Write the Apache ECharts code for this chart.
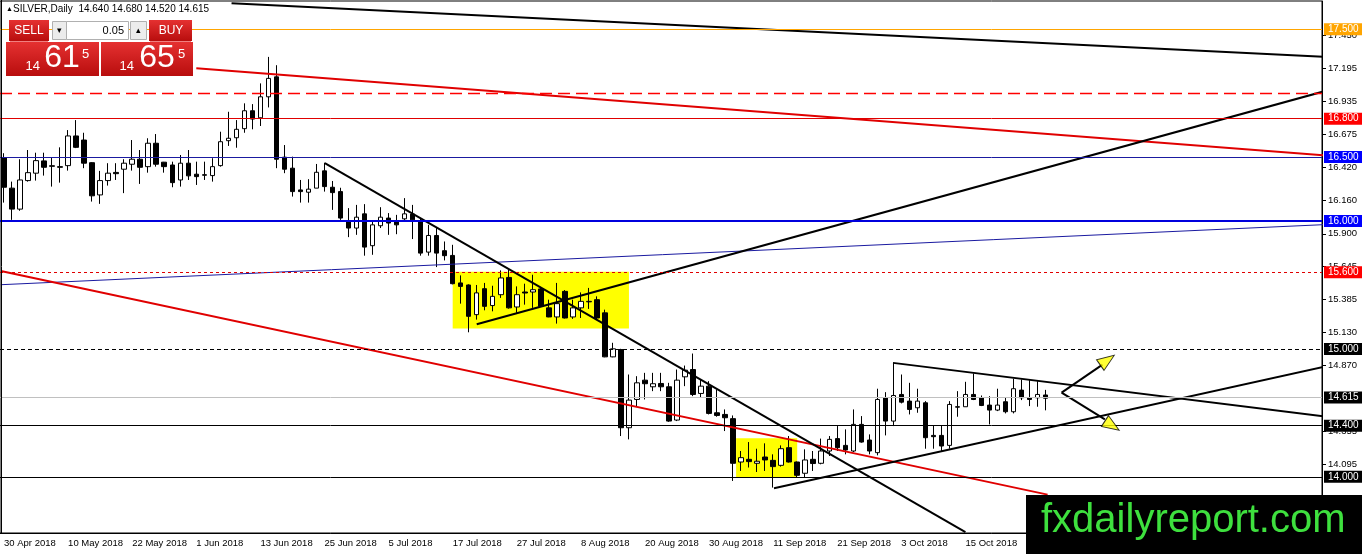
<!DOCTYPE html>
<html>
<head>
<meta charset="utf-8">
<title>SILVER, Daily</title>
<script src="https://cdn.jsdelivr.net/npm/echarts@6.0.0/dist/echarts.min.js"></script>
<style>
html,body{margin:0;padding:0;background:#fff;}
#chart{width:1362px;height:554px;}
</style>
</head>
<body>
<div id="chart"></div>
<script>
// daily bars, 30 Apr 2018 .. 29 Oct 2018
var openVals = [16.495,16.257,16.093,16.316,16.374,16.470,16.432,16.425,16.433,16.665,
	16.633,16.456,16.204,16.316,16.380,16.405,16.444,16.483,16.425,16.608,
	16.460,16.438,16.321,16.452,16.366,16.362,16.355,16.433,16.628,16.651,
	16.722,16.862,16.807,16.971,17.127,16.499,16.413,16.243,16.225,16.257,
	16.392,16.264,16.230,16.004,15.945,16.056,15.807,15.963,16.023,16.004,
	16.017,16.054,16.004,15.757,15.887,15.768,15.731,15.516,15.500,15.268,
	15.471,15.339,15.424,15.559,15.328,15.445,15.445,15.469,15.321,15.250,
	15.450,15.250,15.321,15.368,15.385,15.282,14.938,14.995,14.384,14.605,
	14.756,14.704,14.730,14.704,14.444,14.782,14.839,14.652,14.709,14.501,
	14.488,14.455,14.116,14.137,14.106,14.155,14.129,14.090,14.228,14.116,
	14.028,14.137,14.106,14.202,14.299,14.246,14.202,14.410,14.288,14.189,
	14.618,14.436,14.644,14.592,14.540,14.579,14.324,14.324,14.246,14.548,
	14.548,14.644,14.618,14.561,14.522,14.587,14.509,14.678,14.618,14.618,
	14.640];
var closeVals = [16.264,16.093,16.321,16.378,16.472,16.420,16.428,16.420,16.665,16.576,
	16.452,16.197,16.316,16.374,16.370,16.452,16.483,16.420,16.608,16.444,
	16.425,16.300,16.452,16.353,16.347,16.358,16.425,16.620,16.647,16.717,
	16.862,16.797,16.971,17.115,16.483,16.405,16.230,16.230,16.249,16.381,
	16.269,16.222,16.023,15.945,16.030,15.796,15.970,16.030,15.984,15.970,
	16.056,16.009,15.749,15.887,15.749,15.729,15.510,15.489,15.255,15.438,
	15.333,15.411,15.555,15.321,15.424,15.437,15.463,15.333,15.250,15.354,
	15.242,15.321,15.372,15.372,15.242,14.938,15.001,14.384,14.600,14.735,
	14.728,14.728,14.704,14.436,14.756,14.834,14.644,14.709,14.496,14.480,
	14.462,14.106,14.150,14.119,14.122,14.132,14.080,14.220,14.116,14.012,
	14.132,14.104,14.202,14.293,14.228,14.210,14.410,14.272,14.202,14.605,
	14.436,14.636,14.584,14.527,14.592,14.306,14.314,14.241,14.566,14.545,
	14.644,14.605,14.558,14.522,14.561,14.509,14.689,14.618,14.605,14.644,
	14.615];
var lowVals = [16.144,16.009,16.080,16.308,16.316,16.355,16.269,16.300,16.394,16.570,
	16.413,16.152,16.134,16.277,16.321,16.218,16.394,16.290,16.378,16.425,
	16.378,16.264,16.269,16.321,16.282,16.321,16.308,16.425,16.587,16.573,
	16.690,16.717,16.743,16.888,16.413,16.374,16.191,16.144,16.144,16.257,
	16.230,16.087,16.009,15.874,15.892,15.729,15.736,15.945,15.892,15.897,
	16.004,15.859,15.729,15.729,15.640,15.692,15.505,15.354,15.130,15.229,
	15.302,15.294,15.399,15.315,15.282,15.346,15.321,15.328,15.248,15.198,
	15.238,15.235,15.242,15.313,15.229,14.935,14.935,14.319,14.293,14.553,
	14.605,14.670,14.670,14.430,14.436,14.709,14.631,14.618,14.488,14.470,
	14.358,13.968,14.046,14.073,14.038,14.046,13.916,14.080,14.112,13.995,
	13.995,14.046,14.098,14.163,14.202,14.176,14.194,14.267,14.176,14.168,
	14.324,14.397,14.574,14.488,14.501,14.220,14.220,14.202,14.220,14.470,
	14.548,14.600,14.553,14.410,14.514,14.496,14.496,14.600,14.553,14.548,
	14.520];
var highVals = [16.530,16.308,16.483,16.555,16.534,16.534,16.495,16.576,16.711,16.789,
	16.690,16.460,16.392,16.452,16.452,16.483,16.633,16.555,16.647,16.680,
	16.462,16.464,16.516,16.555,16.464,16.464,16.491,16.698,16.854,16.789,
	16.920,16.914,17.076,17.283,17.218,16.594,16.503,16.321,16.327,16.446,
	16.456,16.313,16.260,16.101,16.126,16.132,16.004,16.108,16.062,16.048,
	16.179,16.126,16.023,15.970,15.945,15.840,15.814,15.575,15.505,15.500,
	15.516,15.494,15.614,15.619,15.489,15.510,15.580,15.477,15.385,15.516,
	15.460,15.385,15.442,15.477,15.411,15.307,15.048,15.001,14.800,14.787,
	14.813,14.813,14.813,14.735,14.839,14.870,14.964,14.761,14.748,14.683,
	14.527,14.480,14.202,14.272,14.220,14.262,14.176,14.246,14.319,14.120,
	14.215,14.202,14.299,14.319,14.397,14.371,14.527,14.475,14.332,14.689,
	14.662,14.892,14.800,14.735,14.689,14.592,14.402,14.402,14.592,14.670,
	14.743,14.808,14.636,14.631,14.689,14.618,14.767,14.761,14.756,14.748,
	14.680];

// price scale labels on the right
var yTicks = [17.450,17.195,16.935,16.675,16.420,16.160,15.900,15.645,15.385,15.130,14.870,14.355,14.095,13.835];
// horizontal levels
var levelPrices = [17.500,17.000,16.800,16.500,16.000,15.600,15.000,14.615,14.400,14.000];
// trend lines [bar index, price]
var lineTop = [[28.4,17.702],[164.9,17.284]];
var lineRedUp = [[24.0,17.195],[164.9,16.512]];
var lineNavy = [[-0.4,15.502],[164.9,15.972]];
var lineRedLow = [[-0.4,15.609],[130.25,13.861]];
var lineFall = [[40.04,16.452],[120.0,13.568]];
var lineRise = [[59.0,15.193],[164.9,17.016]];
var lineSupport = [[96.1,13.911],[169.9,14.931]];
var lineResist = [[110.96,14.891],[169.9,14.432]];
var arrowUp = [[132.0,14.658],[137.1,14.877]];
var arrowDown = [[132.0,14.658],[137.4,14.449]];
var arrowHeads = [[137.7,14.912],[138.3,14.400]];
// yellow boxes [x0,p0,x1,p1]
var boxes = [[56.0,15.604,78.0,15.159],[91.375,14.301,99.0,13.997]];
var askPrice = 14.655;

var barCount = 165;
var months = ['Jan','Feb','Mar','Apr','May','Jun','Jul','Aug','Sep','Oct','Nov','Dec'];

function weekdays(start, n){
	var out = [], t = start;
	while(out.length < n){
		var d = new Date(t);
		var wd = d.getUTCDay();
		if(wd != 0 && wd != 6){
			out.push(d.getUTCDate()+' '+months[d.getUTCMonth()]+' '+d.getUTCFullYear());
		}
		t += 86400000;
	}
	return out;
}

var dates = weekdays(Date.UTC(2018,3,30), barCount);
var candles = [];
for(var i=0;i<openVals.length;i++){
	candles.push([openVals[i],closeVals[i],lowVals[i],highVals[i]]);
}
var last = openVals.length-1;

var FONT = 'Liberation Sans';

function level(price, color, width, type, tag){
	return {
		yAxis: price,
		lineStyle: {color: color, width: width, type: type},
		label: tag ? {
			show: true, position: 'end', distance: 2,
			formatter: price.toFixed(3),
			color: '#fff', backgroundColor: tag,
			padding: [1,4,1,4], fontSize: 10, fontFamily: FONT
		} : {show: false}
	};
}

function trend(points, color, width, clip){
	return {
		type: 'line', xAxisIndex: 1, yAxisIndex: 0,
		data: points, symbol: 'none', showSymbol: false,
		clip: clip, silent: true, z: 4,
		lineStyle: {color: color, width: width}
	};
}

function txt(x, y, s, size, color, align){
	return {type:'text', x:x, y:y, z:100, silent:true,
		style:{text:s, fill:color, font: size+'px "'+FONT+'"',
			align: align||'left', textAlign: align||'left',
			verticalAlign:'middle', textVerticalAlign:'middle'}};
}
function box(x, y, w, h, fill, stroke){
	return {type:'rect', z:99, silent:true, shape:{x:x,y:y,width:w,height:h},
		style:{fill:fill, stroke:stroke||null, lineWidth:1}};
}
function redFill(){
	return new echarts.graphic.LinearGradient(0,0,0,1,[{offset:0,color:'#e53131'},{offset:1,color:'#b80d0d'}]);
}

var bid = closeVals[last].toFixed(3), ask = askPrice.toFixed(3);

var graphics = [
	{type:'line', z:99, silent:true, shape:{x1:1.5,y1:0,x2:1.5,y2:533}, style:{stroke:'#000',lineWidth:1}},
	txt(6, 9.5, '\u25B2', 7, '#000'),
	txt(13, 9.5, 'SILVER,Daily  '+openVals[last].toFixed(3)+' '+highVals[last].toFixed(3)+' '+lowVals[last].toFixed(3)+' '+closeVals[last].toFixed(3), 10, '#000'),
	box(9, 20, 40, 21, redFill()),
	box(149, 20, 43, 21, redFill()),
	box(6, 42, 93, 34, redFill()),
	box(101, 42, 92, 34, redFill()),
	{type:'line', z:100, silent:true, shape:{x1:10,y1:41.5,x2:48,y2:41.5}, style:{stroke:'#f08080',lineWidth:1}},
	{type:'line', z:100, silent:true, shape:{x1:150,y1:41.5,x2:191,y2:41.5}, style:{stroke:'#f08080',lineWidth:1}},
	box(52.5, 21.5, 14, 18, '#ececec', '#b0b0b0'),
	box(66.5, 21.5, 62, 18, '#fff', '#b0b0b0'),
	box(130.5, 21.5, 16, 18, '#ececec', '#b0b0b0'),
	txt(59.5, 30.5, '\u25BE', 9, '#000', 'center'),
	txt(138.5, 30.5, '\u25B4', 9, '#000', 'center'),
	txt(124, 30.5, '0.05', 11, '#000', 'right'),
	txt(29, 31, 'SELL', 12, '#fff', 'center'),
	txt(171, 31, 'BUY', 12, '#fff', 'center'),
	txt(40, 66, bid.substr(0,2), 13, '#fff', 'right'),
	txt(62, 58.5, bid.substr(3,2), 32, '#fff', 'center'),
	txt(82, 54, bid.substr(5,1), 13, '#fff', 'left'),
	txt(134, 66, ask.substr(0,2), 13, '#fff', 'right'),
	txt(157, 58.5, ask.substr(3,2), 32, '#fff', 'center'),
	txt(178, 54, ask.substr(5,1), 13, '#fff', 'left'),
	box(1026, 495, 336, 59, '#000'),
	txt(1041, 521, 'fxdailyreport.com', 40, '#3ee03e', 'left')
];

var chart = echarts.init(document.getElementById('chart'));
chart.setOption({
	animation: false,
	backgroundColor: '#fff',
	textStyle: {fontFamily: FONT},
	grid: {left: -1, right: 40, top: 1, bottom: 21, show: true, borderColor: '#000', borderWidth: 1, containLabel: false},
	xAxis: [
		{
			type: 'category',
			data: dates,
			axisLine: {lineStyle: {color: '#000'}},
			axisTick: {alignWithLabel: true, interval: 7, length: 4, lineStyle: {color: '#000'}},
			axisLabel: {interval: 7, align: 'left', margin: 5, fontSize: 9.5, color: '#000', fontFamily: FONT},
			splitLine: {show: false}
		},
		{type: 'value', min: -0.5, max: barCount-0.5, show: false}
	],
	yAxis: [{
		type: 'value',
		position: 'right',
		min: 13.561,
		max: 17.720,
		axisLine: {show: true, onZero: false, lineStyle: {color: '#000'}},
		axisTick: {show: true, length: 4, customValues: yTicks, lineStyle: {color: '#000'}},
		axisLabel: {customValues: yTicks, margin: 6, fontSize: 9.5, color: '#000', fontFamily: FONT,
			formatter: function(v){ return v.toFixed(3); }},
		splitLine: {show: false}
	}],
	series: [
		{
			type: 'line', xAxisIndex: 1, yAxisIndex: 0, data: [], z: 1, silent: true,
			markArea: {
				silent: true,
				itemStyle: {color: '#ffff00'},
				data: boxes.map(function(b){ return [{xAxis: b[0], yAxis: b[1]}, {xAxis: b[2], yAxis: b[3]}]; })
			}
		},
		{
			type: 'candlestick',
			data: candles,
			barWidth: 5,
			z: 3,
			silent: true,
			itemStyle: {color: '#fff', color0: '#000', borderColor: '#000', borderColor0: '#000', borderWidth: 1},
			markLine: {
				silent: true,
				symbol: 'none',
				animation: false,
				data: [
					level(levelPrices[0], '#ffa500', 1, 'solid', '#ffa500'),
					level(levelPrices[1], '#ff0000', 1.3, [12,6], null),
					level(levelPrices[2], '#e00000', 1, 'solid', '#ff0000'),
					level(levelPrices[3], '#1a1aa0', 1, 'solid', '#0000ff'),
					level(levelPrices[4], '#0000dd', 2, 'solid', '#0000ff'),
					level(levelPrices[5], '#e00000', 1, [3,3], '#ff0000'),
					level(levelPrices[6], '#000', 1, [4,3], '#000'),
					level(levelPrices[7], '#c0c0c0', 1, 'solid', '#000'),
					level(levelPrices[8], '#000', 1, 'solid', '#000'),
					level(levelPrices[9], '#000', 1, 'solid', '#000')
				]
			}
		},
		trend(lineTop, '#000', 2, true),
		trend(lineRedUp, '#e00000', 2, true),
		trend(lineNavy, '#1a1aa0', 1, true),
		trend(lineRedLow, '#e00000', 2, true),
		trend(lineFall, '#000', 2, true),
		trend(lineRise, '#000', 2, true),
		trend(lineSupport, '#000', 2, false),
		trend(lineResist, '#000', 2, false),
		trend(arrowUp, '#000', 2, false),
		trend(arrowDown, '#000', 2, false),
		{
			type: 'scatter', xAxisIndex: 1, yAxisIndex: 0, z: 5, silent: true, clip: false,
			symbol: 'triangle', symbolSize: [13, 17],
			itemStyle: {color: '#ffff00', borderColor: '#000', borderWidth: 1},
			data: [
				{value: arrowHeads[0], symbolRotate: -55},
				{value: arrowHeads[1], symbolRotate: -123}
			]
		}
	],
	graphic: graphics
});
</script>
</body>
</html>
